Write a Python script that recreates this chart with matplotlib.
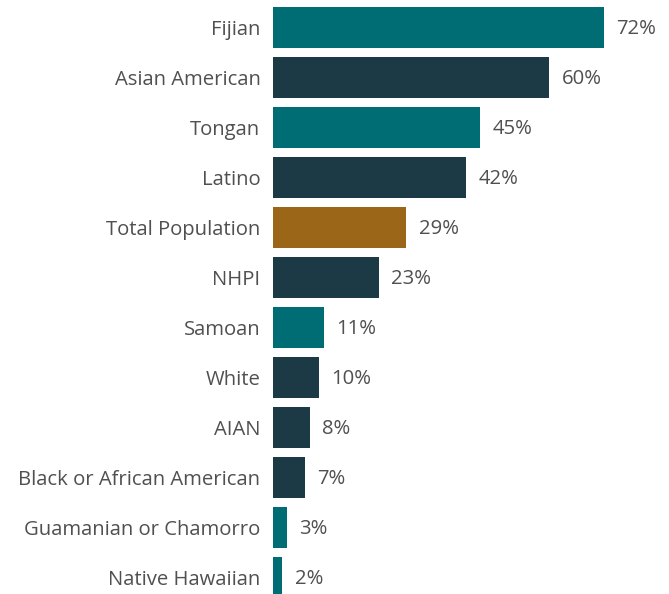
import matplotlib.pyplot as plt

plt.rcParams['font.family'] = ['Open Sans', 'DejaVu Sans']

groups = ["Fijian", "Asian American", "Tongan", "Latino", "Total Population", "NHPI",
          "Samoan", "White", "AIAN", "Black or African American",
          "Guamanian or Chamorro", "Native Hawaiian"]
values = [72, 60, 45, 42, 29, 23, 11, 10, 8, 7, 3, 2]
kinds = ["nhpi", "other", "nhpi", "other", "total", "other",
         "nhpi", "other", "other", "other", "nhpi", "nhpi"]

palette = {"nhpi": "#006c74", "other": "#1b3a45", "total": "#9b6618"}
text_col = "#505050"

fig = plt.figure(figsize=(6.69, 5.94), dpi=100)
ax = fig.add_axes([273 / 669, 0, 1 - 273 / 669, 1])

ypos = list(range(len(groups)))
ax.barh(ypos, values, height=0.83, color=[palette[k] for k in kinds])

for y, v in zip(ypos, values):
    ax.text(v + 2.7, y + 0.03, f"{v}%", va="center", ha="left", fontsize=14.6, color=text_col)

ax.set_yticks(ypos)
ax.set_yticklabels(groups, fontsize=14.6, color=text_col)
for lbl in ax.get_yticklabels():
    lbl.set_y(lbl.get_position()[1])
ax.tick_params(axis="y", length=0, pad=9)
ax.set_xticks([])
ax.set_xlim(0, (669 - 273) / 4.6)
ax.set_ylim((594 - 27.5) / 50, -27.5 / 50)
for s in ax.spines.values():
    s.set_visible(False)

fig.savefig("out.png", dpi=100)
